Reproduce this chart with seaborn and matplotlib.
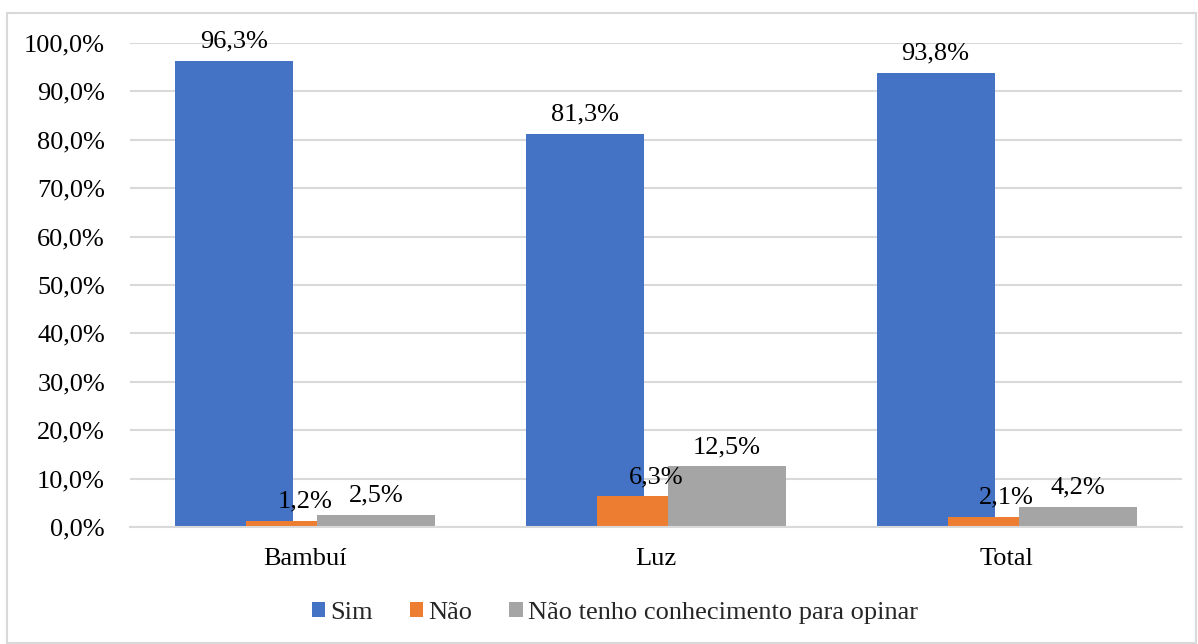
import matplotlib
matplotlib.use("Agg")
import matplotlib.pyplot as plt
import seaborn as sns
import pandas as pd
from matplotlib.patches import Rectangle

categories = ["Bambuí", "Luz", "Total"]
series_names = ["Sim", "Não", "Não tenho conhecimento para opinar"]
sim = [96.3, 81.3, 93.8]
nao = [1.2, 6.3, 2.1]
nao_sabe = [2.5, 12.5, 4.2]
y_ticks = [0, 10, 20, 30, 40, 50, 60, 70, 80, 90, 100]
colors = ["#4472C4", "#ED7D31", "#A5A5A5"]

rows = []
for name, vals in zip(series_names, [sim, nao, nao_sabe]):
    for c, v in zip(categories, vals):
        rows.append({"cat": c, "serie": name, "valor": v})
df = pd.DataFrame(rows)

sns.set_theme(style="white")
plt.rcParams["font.family"] = ["Liberation Serif", "DejaVu Serif"]

fig = plt.figure(figsize=(11.98, 6.44), dpi=100)
ax = fig.add_axes([0.1085, 0.1817, 0.8781, 0.7515])

sns.barplot(data=df, x="cat", y="valor", hue="serie", order=categories,
            hue_order=series_names, palette=colors, width=0.6075, gap=-0.662,
            saturation=1, ax=ax, errorbar=None, legend=True, linewidth=0)

ax.set_ylim(0, 100)
ax.set_xlim(-0.5, 2.5)
ax.set_yticks(y_ticks)
ax.set_yticklabels([f"{t:.1f}".replace(".", ",") + "%" for t in y_ticks])
ax.yaxis.grid(True, color="#D9D9D9", linewidth=1.5)
ax.set_axisbelow(True)
for s in ["top", "right", "left"]:
    ax.spines[s].set_visible(False)
ax.spines["bottom"].set_color("#D9D9D9")
ax.spines["bottom"].set_linewidth(1.5)
ax.tick_params(axis="both", length=0, labelsize=19, colors="black")
ax.tick_params(axis="x", pad=15)
ax.tick_params(axis="y", pad=18)
ax.set_xlabel("")
ax.set_ylabel("")

for cont, vals in zip(ax.containers, [sim, nao, nao_sabe]):
    ax.bar_label(cont, labels=[f"{v:.1f}".replace(".", ",") + "%" for v in vals],
                 padding=6, fontsize=19, color="black")

handles, labels = ax.get_legend_handles_labels()
ax.legend(handles, labels, loc="center", bbox_to_anchor=(0.461, -0.178),
          ncol=3, frameon=False, fontsize=19, handlelength=0.5, handleheight=0.5,
          handletextpad=0.2, columnspacing=1.4)

fig.patches.append(Rectangle((0.0058, 0.0016), 0.9925, 0.978, transform=fig.transFigure,
                             fill=False, edgecolor="#D9D9D9", linewidth=1.5))

fig.savefig("out.png", dpi=100)
